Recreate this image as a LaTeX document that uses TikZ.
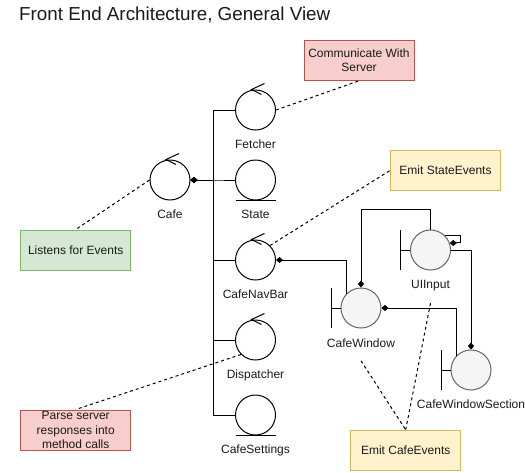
\documentclass[tikz,border=0pt]{standalone}
\usepackage{fontspec}
\setmainfont{Liberation Sans}
\usetikzlibrary{arrows.meta}
\definecolor{redfill}{RGB}{248, 206, 204}
\definecolor{redline}{RGB}{184, 84, 80}
\definecolor{greenfill}{RGB}{213, 232, 212}
\definecolor{greenline}{RGB}{130, 179, 102}
\definecolor{yellowfill}{RGB}{255, 242, 204}
\definecolor{yellowline}{RGB}{214, 182, 86}
\definecolor{boundfill}{RGB}{245, 245, 245}
\definecolor{boundline}{RGB}{102, 102, 102}
\definecolor{textdark}{RGB}{26, 26, 26}

\begin{document}
\begin{tikzpicture}[x=1pt,y=-1pt,
    wire/.style={line width=1pt},
    dia/.style={wire,{Diamond[length=7pt,width=6pt]}-},
    diaend/.style={wire,-{Diamond[length=7pt,width=6pt]}},
    dashline/.style={line width=1pt,dash pattern=on 3pt off 3pt},
    ctrl/.style={circle,draw,line width=1pt,minimum size=40pt,inner sep=0pt},
    bnd/.style={circle,draw=boundline,fill=boundfill,line width=1pt,minimum size=40pt,inner sep=0pt},
    lbl/.style={anchor=base,inner sep=0pt,text=textdark,font=\fontsize{12}{14.4}\selectfont},
    note/.style={rectangle,line width=1pt,minimum width=110pt,minimum height=40pt,inner sep=0pt,align=center,text=textdark,font=\fontsize{12}{14.4}\selectfont}]
        \fill[white] (0,0) rectangle (525,472);
        \useasboundingbox (0,0) rectangle (525,472);

        % Title
        \node[anchor=base west,inner sep=0pt,text=textdark,font=\fontsize{18.8}{22}\selectfont] (title) at (19,20.7) {Front End Architecture, General View};

        % Controls and entities
        \node[ctrl] (cafe) at (170,180) {};
        \node[ctrl] (fetch) at (255.5,110) {};
        \node[ctrl] (state) at (255.5,180) {};
        \node[ctrl] (navbar) at (255.5,260) {};
        \node[ctrl] (disp) at (255.5,340) {};
        \node[ctrl] (settings) at (255.5,415) {};

        % Boundaries
        \node[bnd] (cwin) at (361,308) {};
        \node[bnd] (uiin) at (430.5,250) {};
        \node[bnd] (cws) at (471,370) {};

        % Labels
        \node[lbl] (cafelbl) at (170,218.5) {Cafe};
        \node[lbl] (fetchlbl) at (255.5,148.5) {Fetcher};
        \node[lbl] (statelbl) at (255.5,218.5) {State};
        \node[lbl] (navbarlbl) at (255.5,298.5) {CafeNavBar};
        \node[lbl] (displbl) at (255.5,378.5) {Dispatcher};
        \node[lbl] (settingslbl) at (255.5,453.5) {CafeSettings};
        \node[lbl] (cwinlbl) at (361,347.5) {CafeWindow};
        \node[lbl] (uiinlbl) at (430.5,288.5) {UIInput};
        \node[lbl] (cwslbl) at (471,408.5) {CafeWindowSection};

        % Control arrows
        \foreach \n in {cafe,fetch,navbar,disp} {
            \draw[wire] ([shift={(9,-6)}]\n.north) -- ([shift={(-4,0)}]\n.north) -- ([shift={(6,5)}]\n.north);
        }

        % Entity underlines
        \foreach \n in {state,settings} {
            \draw[wire] ([xshift=-20pt]\n.south) -- ([xshift=20pt]\n.south);
        }

        % Boundary bars
        \foreach \n in {cwin,uiin,cws} {
            \draw[wire] ([xshift=-30pt]\n.center) ++(0,-20) -- ++(0,40);
            \draw[wire] ([xshift=-30pt]\n.center) -- (\n.west);
        }

        % Notes
        \node[note,fill=redfill,draw=redline] (server) at (359,60.3) {Communicate With\\Server};
        \node[note,fill=greenfill,draw=greenline] (listen) at (75.7,250) {Listens for Events};
        \node[note,fill=yellowfill,draw=yellowline] (stateev) at (445.5,170.5) {Emit StateEvents};
        \node[note,fill=redfill,draw=redline] (parse) at (75.7,430) {Parse server\\responses into\\method calls};
        \node[note,fill=yellowfill,draw=yellowline] (cafeev) at (405.7,450.3) {Emit CafeEvents};

        % Cafe bus
        \foreach \n in {fetch,state,navbar,disp,settings} {
            \draw[dia] (cafe.east) -- ++(23,0) |- (\n.west);
        }

        % Window connectors
        \draw[dia] (navbar.east) -| (cwin.north west);
        \draw[diaend] (uiin.north) -- ++(0,-20) -| (cwin.north);
        \draw[dia] (uiin.20) -- ++(11,0) |- (uiin.45);
        \draw[diaend] (uiin.east) -| (cws.north);
        \draw[dia] (cwin.east) -| (cws.north west);

        % Note links
        \draw[dashline] (cafe.west) -- (listen.north);
        \draw[dashline] (fetch.east) -- (server.south);
        \draw[dashline] (navbar.north east) -- (stateev.west);
        \draw[dashline] (disp.south west) -- (parse.north);
        \draw[dashline] ([shift={(0,13)}]cwinlbl.south) -- (cafeev.north);
        \draw[dashline] ([shift={(0,12)}]uiinlbl.south) -- (cafeev.north);
    \end{tikzpicture}
\end{document}
